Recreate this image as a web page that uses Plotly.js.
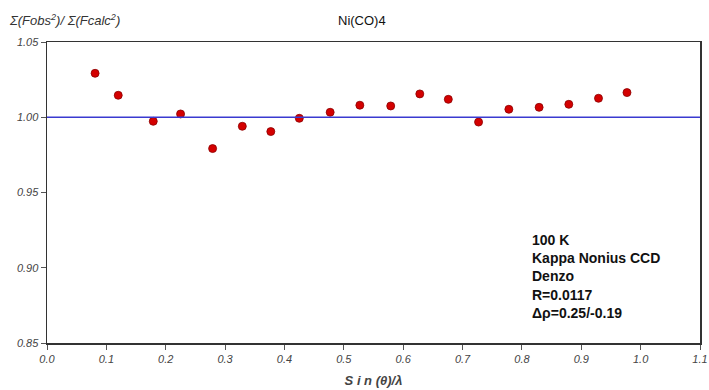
<!DOCTYPE html>
<html><head><meta charset="utf-8">
<script src="https://cdn.plot.ly/plotly-3.0.1.min.js"></script>
<style>html,body{margin:0;padding:0;background:#fff}</style>
</head><body>
<div id="chart" style="width:709px;height:390px"></div>
<script>
const sinThetaOverLambda = [0.081, 0.120, 0.179, 0.225, 0.279, 0.329, 0.377, 0.425, 0.477, 0.527, 0.579, 0.628, 0.676, 0.727, 0.778, 0.829, 0.879, 0.929, 0.977];
const fobsFcalcRatio = [1.0292, 1.0146, 0.9973, 1.0022, 0.9792, 0.9940, 0.9905, 0.9993, 1.0033, 1.0080, 1.0075, 1.0155, 1.0119, 0.9968, 1.0053, 1.0066, 1.0086, 1.0126, 1.0164];
const xTicks = [0.0, 0.1, 0.2, 0.3, 0.4, 0.5, 0.6, 0.7, 0.8, 0.9, 1.0, 1.1];
const yTicks = [0.85, 0.90, 0.95, 1.00, 1.05];
const refLevel = 1.00;
const infoLines = ["100 K", "Kappa Nonius CCD", "Denzo", "R=0.0117", "Δρ=0.25/-0.19"];

const trace = {
  x: sinThetaOverLambda, y: fobsFcalcRatio, type: 'scatter', mode: 'markers',
  marker: {size: 8, color: '#d40000', line: {color: '#8a0000', width: 0.8}},
  hoverinfo: 'skip', showlegend: false
};
const tickFont = {family: 'Arial, Liberation Sans, sans-serif', size: 11, color: '#444', style: 'italic'};
const layout = {
  width: 709, height: 390,
  margin: {l: 47, r: 9, t: 42, b: 47},
  paper_bgcolor: '#fff', plot_bgcolor: '#fff',
  xaxis: {
    range: [0, 1.1], tickvals: xTicks, ticktext: xTicks.map(v => v.toFixed(1)),
    ticks: 'outside', ticklen: 5, tickcolor: '#555', showgrid: false, zeroline: false,
    showline: true, linecolor: '#333', linewidth: 1.5, mirror: true,
    tickfont: tickFont,
    title: {text: '<b><i>S i n (θ)/λ</i></b>', font: {family: 'Arial, Liberation Sans, sans-serif', size: 13, color: '#444'}, standoff: 12}
  },
  yaxis: {
    range: [0.85, 1.05], tickvals: yTicks, ticktext: yTicks.map(v => v.toFixed(2)),
    ticks: 'outside', ticklen: 5, tickcolor: '#555', showgrid: false, zeroline: false,
    showline: true, linecolor: '#333', linewidth: 1.5, mirror: true,
    tickfont: tickFont
  },
  shapes: [{type: 'line', xref: 'paper', x0: 0, x1: 1, yref: 'y', y0: refLevel, y1: refLevel,
            line: {color: '#3a3ad0', width: 1.5}}],
  annotations: [
    {text: 'Ni(CO)4', xref: 'paper', yref: 'paper', x: 0.483, y: 1, yshift: 22, showarrow: false,
     font: {family: 'Arial, Liberation Sans, sans-serif', size: 13, color: '#111'}, xanchor: 'center', yanchor: 'middle'},
    {text: '<i>Σ(Fobs<sup>2</sup>)/ Σ(Fcalc<sup>2</sup>)</i>', xref: 'paper', yref: 'paper', x: 0, xshift: -40, y: 1, yshift: 22,
     showarrow: false, xanchor: 'left', yanchor: 'middle',
     font: {family: 'Arial, Liberation Sans, sans-serif', size: 13, color: '#333'}},
    {text: infoLines.map(s => '<b>' + s + '</b>').join('<br>'), xref: 'paper', yref: 'paper', x: 0.74, y: 0.375,
     showarrow: false, xanchor: 'left', yanchor: 'top', align: 'left',
     font: {family: 'Arial, Liberation Sans, sans-serif', size: 14, color: '#111'}}
  ]
};
Plotly.newPlot('chart', [trace], layout, {displayModeBar: false, staticPlot: true});
</script>
</body></html>
